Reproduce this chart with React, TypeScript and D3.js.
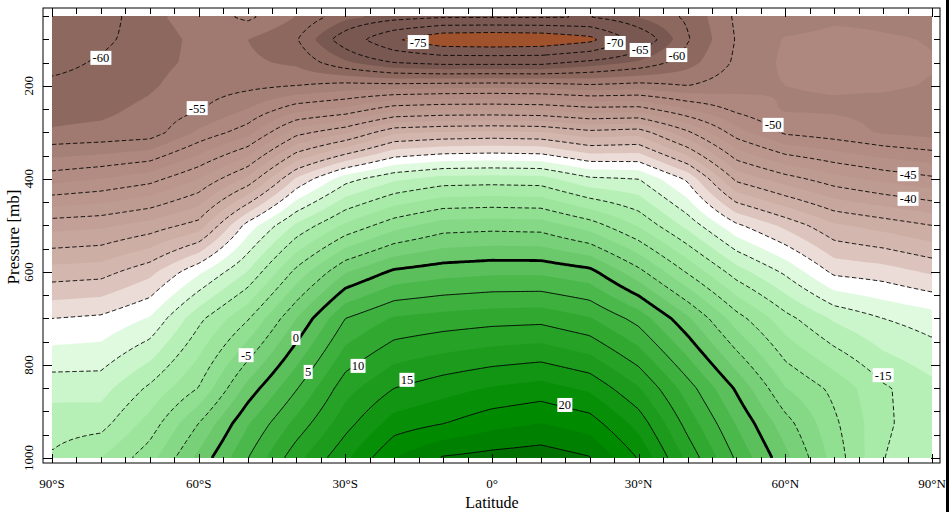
import React, { useMemo } from "react";
import * as d3 from "d3";

// ---------------- data (zonal-mean temperature, °C) ----------------
const latitudes = [-90, -80, -70, -60, -50, -40, -30, -20, -10, 0, 10, 20, 30, 40, 50, 60, 70, 80, 90];
const pressureLevels = [50, 100, 150, 200, 250, 300, 400, 500, 600, 700, 850, 925, 1000];

const t50 = [-62.5, -61.5, -58, -56.5, -54.3, -57.5, -61.5, -63, -64, -64, -64, -64.5, -62, -59.5, -54.5, -54, -53, -53, -53];
const t100 = [-62, -60.7, -58.5, -57, -57.5, -59.8, -67, -74.5, -79, -79.5, -79, -76.5, -68, -60.3, -54.8, -52.3, -51.8, -52.3, -52.6];
const t150 = [-61, -59.6, -58.2, -57, -57, -58, -62, -65, -66, -66, -66, -64, -62, -58.5, -54.5, -52, -51.8, -52, -52.4];
const t200 = [-59.3, -58.8, -57.8, -56.3, -55.7, -55, -54, -54, -53.7, -53.5, -53.7, -54.5, -54, -55, -53.5, -52.5, -52.3, -52.3, -52.6];
const t250 = [-58.2, -58, -57, -55.3, -52.5, -48.5, -47, -43.5, -42.8, -42.7, -43, -44.2, -44, -47.5, -50.7, -52.8, -52.8, -53, -53.2];
const t300 = [-57.3, -57, -56.5, -52, -48.6, -41, -38, -33, -32.3, -32, -32.3, -34.2, -33.5, -39.5, -46.4, -50.5, -51.5, -52.8, -53.5];
const t400 = [-48.5, -47.5, -46, -42.5, -37, -27.1, -21, -18, -16.5, -16.3, -16.5, -19.5, -20, -25.5, -35.7, -38.9, -41.5, -43.2, -44.5];
const t500 = [-38.5, -38, -36.5, -34, -24, -17, -12, -8.5, -6.3, -6, -6.2, -8.7, -12.8, -18.3, -24.5, -28.2, -32.1, -33.5, -35];
const t600 = [-31.4, -31, -28.3, -23, -17.4, -9.2, -2.7, 0.5, 1.5, 2, 2, 0.8, -4.2, -10.3, -16.3, -20.5, -25.6, -26.3, -27.9];
const t700 = [-25, -24.5, -22.3, -15.7, -10.3, -2.5, 5, 7.8, 8.5, 9, 9.2, 7.7, 4, -2, -8.9, -14.1, -17.9, -20, -21.2];
const t850 = [-18.5, -18.5, -14.5, -9.9, -1.6, 4.8, 11.5, 15, 16.5, 17.7, 18.5, 17, 12.7, 6.2, -0.4, -7.4, -10.7, -14.6, -16.8];
const t925 = [-16.1, -16, -11.5, -5, 2.2, 8.3, 14, 18.6, 19.9, 21.6, 22.5, 21.2, 16.5, 9, 2.3, -4, -9.5, -14.4, -17];
const t1000 = [-14.7, -12.5, -8.5, -1.8, 4.9, 11.7, 17, 22.5, 25.3, 26, 26.5, 25.2, 19.8, 11.8, 4.6, -1.7, -8.5, -14.9, -17.5];

const temperatureRows = [t50, t100, t150, t200, t250, t300, t400, t500, t600, t700, t850, t925, t1000];

const contourLevels = [-75, -70, -65, -60, -55, -50, -45, -40, -35, -30, -25, -20, -15, -10, -5, 0, 5, 10, 15, 20, 25];

const fillThresholds = [-75, -62.5, -57.5, -55, -52.5, -50, -47.5, -45, -42.5, -40, -37.5, -35, -32.5, -30, -27.5, -25, -22.5, -20, -17.5, -15, -12.5, -10, -7.5, -5, -2.5, 0, 2.5, 5, 7.5, 10, 12.5, 15, 17.5, 20, 22.5, 25];
const fillColors = [
  "#a0522d", "#785850", "#8c685e", "#a07a70", "#a58076", "#ae887e", "#b28c82", "#b69187", "#ba968c", "#be9b91",
  "#c2a097", "#c7a69d", "#ccaea5", "#d3b7ae", "#dcc4bd", "#ecdcd7", "#ffffff", "#e0fae0", "#cbf6cb", "#b6f0b6",
  "#a8eba8", "#9de59d", "#91df91", "#85d885", "#78d078", "#6bc86b", "#5bc05b", "#4bb84b", "#3db03d", "#31a931",
  "#26a226", "#1c9b1c", "#129512", "#079007", "#008a00", "#008000", "#007000",
];

const latTicks = [-90, -60, -30, 0, 30, 60, 90];
const latTickLabels = ["90°S", "60°S", "30°S", "0°", "30°N", "60°N", "90°N"];
const pressureTicks = [200, 400, 600, 800, 1000];
const pressureTickLabels = ["200", "400", "600", "800", "1000"];

const labelTexts = ["-60", "-55", "-75", "-70", "-65", "-60", "-50", "-45", "-40", "0", "-5", "5", "10", "15", "20", "-15"];
const labelLats = [-80, -60.3, -15.1, 25.2, 30.3, 37.8, 57.5, 85.1, 85.1, -40.1, -50.3, -37.6, -27.4, -17.4, 14.9, 80];
const labelPressures = [140, 248, 106, 108, 123, 134, 284, 390, 443, 742, 779, 815, 802, 832, 886, 822];

// ---------------- layout ----------------
const W = 949;
const H = 512;
const X0 = 52, X1 = 932, Y0 = 16, Y1 = 458;
const FRAME = { l: 43, r: 940, t: 8, b: 463 };
const NX = 352, NY = 176;

function clamp(v: number, a: number, b: number) {
  return Math.max(a, Math.min(b, v));
}

function sampleT(lat: number, p: number) {
  const li = clamp(d3.bisectRight(latitudes, lat) - 1, 0, latitudes.length - 2);
  const fx = clamp((lat - latitudes[li]) / (latitudes[li + 1] - latitudes[li]), 0, 1);
  const pi = clamp(d3.bisectRight(pressureLevels, p) - 1, 0, pressureLevels.length - 2);
  const fy = clamp((p - pressureLevels[pi]) / (pressureLevels[pi + 1] - pressureLevels[pi]), 0, 1);
  const r0 = temperatureRows[pi], r1 = temperatureRows[pi + 1];
  const a = r0[li] * (1 - fx) + r0[li + 1] * fx;
  const b = r1[li] * (1 - fx) + r1[li + 1] * fx;
  return a * (1 - fy) + b * fy;
}

type Pt = [number, number];

function splitRing(ring: Pt[], nx: number, ny: number) {
  const isB = (p: Pt) => p[0] <= 0 || p[0] >= nx || p[1] <= 0 || p[1] >= ny;
  const pts = ring.slice(0, ring.length - 1);
  const n = pts.length;
  const bIdx = pts.findIndex(isB);
  if (bIdx < 0) return [{ pts: ring, closed: true }];
  const ext = (b: Pt, q: Pt): Pt => (b[0] <= 0 || b[0] >= nx ? [b[0], q[1]] : [q[0], b[1]]);
  const out: { pts: Pt[]; closed: boolean }[] = [];
  let cur: Pt[] | null = null;
  for (let k = 1; k <= n; k++) {
    const idx = (bIdx + k) % n;
    const p = pts[idx];
    if (isB(p)) {
      if (cur) {
        cur.push(ext(p, cur[cur.length - 1]));
        if (cur.length >= 2) out.push({ pts: cur, closed: false });
        cur = null;
      }
    } else {
      if (!cur) {
        const prev = pts[(idx - 1 + n) % n];
        cur = [ext(prev, p)];
      }
      cur.push(p);
    }
  }
  return out;
}

export default function App() {
  const xScale = d3.scaleLinear().domain([-90, 90]).range([X0, X1]);
  const yScale = d3.scaleLinear().domain([50, 1000]).range([Y0, Y1]);

  const { fills, lines } = useMemo(() => {
    const cw = (X1 - X0) / NX;
    const ch = (Y1 - Y0) / NY;
    const values: number[] = new Array(NX * NY);
    for (let j = 0; j < NY; j++) {
      const p = yScale.invert(Y0 + (j + 0.5) * ch);
      for (let i = 0; i < NX; i++) {
        const lat = xScale.invert(X0 + (i + 0.5) * cw);
        values[i + j * NX] = sampleT(lat, p);
      }
    }
    const proj = d3.geoTransform({
      point(this: any, x: number, y: number) {
        this.stream.point(X0 + x * cw, Y0 + y * ch);
      },
    });
    const path = d3.geoPath(proj as any);
    const fillContours = d3.contours().size([NX, NY]).thresholds(fillThresholds)(values);
    const fills = fillContours.map((c, k) => ({ d: path(c as any) || "", color: fillColors[k + 1] }));

    const lineContours = d3.contours().size([NX, NY]).thresholds(contourLevels)(values);
    const lineGen = d3.line<Pt>().x((d) => X0 + d[0] * cw).y((d) => Y0 + d[1] * ch);
    const lines: { d: string; value: number }[] = [];
    lineContours.forEach((c) => {
      (c.coordinates as any as Pt[][][]).forEach((poly) => {
        poly.forEach((ring) => {
          splitRing(ring, NX, NY).forEach((seg) => {
            let d = lineGen(seg.pts) || "";
            if (seg.closed) d += "Z";
            lines.push({ d, value: c.value });
          });
        });
      });
    });
    return { fills, lines };
  }, []);

  const minorLat = d3.range(-90, 91, 5);
  const minorP = d3.range(50, 1001, 50);
  const serif = "Liberation Serif, Times New Roman, serif";
  const labelFont = "Liberation Serif, serif";

  return (
    <svg width={W} height={H} viewBox={`0 0 ${W} ${H}`} style={{ position: "absolute", left: 0, top: 0, background: "#fff" }}>
      <rect x={0} y={0} width={W} height={H} fill="#fff" />
      <rect x={X0} y={Y0} width={X1 - X0} height={Y1 - Y0} fill={fillColors[0]} />
      {fills.map((f, i) => (
        <path key={i} d={f.d} fill={f.color} stroke="none" />
      ))}
      {lines.map((l, i) => (
        <path
          key={"l" + i}
          d={l.d}
          fill="none"
          stroke="#000"
          strokeWidth={l.value === 0 ? 2.8 : 0.9}
          strokeDasharray={l.value < 0 ? "4.5,2.5" : undefined}
          strokeLinejoin="round"
        />
      ))}
      {labelTexts.map((t, i) => {
        const w = t.length * 6 + 3;
        return (
          <g key={"lab" + i} transform={`translate(${xScale(labelLats[i])},${yScale(labelPressures[i])})`}>
            <rect x={-w / 2} y={-7} width={w} height={14} fill="#fff" />
            <text textAnchor="middle" dy="0.36em" fontSize={12.5} fontFamily={labelFont} fill="#000">
              {t}
            </text>
          </g>
        );
      })}
      {/* frame */}
      <rect x={FRAME.l} y={FRAME.t} width={FRAME.r - FRAME.l} height={FRAME.b - FRAME.t} fill="none" stroke="#000" strokeWidth={1} />
      {minorLat.map((v) => {
        const x = Math.round(xScale(v)) + 0.5;
        const len = v % 30 === 0 ? 9 : 6;
        return (
          <g key={"xt" + v}>
            <line x1={x} x2={x} y1={FRAME.t} y2={FRAME.t + len} stroke="#000" />
            <line x1={x} x2={x} y1={FRAME.b} y2={FRAME.b - len} stroke="#000" />
          </g>
        );
      })}
      {minorP.map((v) => {
        const y = Math.round(yScale(v)) + 0.5;
        const len = v % 200 === 0 ? 9 : 6;
        return (
          <g key={"yt" + v}>
            <line x1={FRAME.l} x2={FRAME.l + len} y1={y} y2={y} stroke="#000" />
            <line x1={FRAME.r} x2={FRAME.r - len} y1={y} y2={y} stroke="#000" />
          </g>
        );
      })}
      {latTicks.map((v, i) => (
        <text key={"xl" + v} x={xScale(v)} y={488} textAnchor="middle" fontSize={13} fontFamily={serif} fill="#000">
          {latTickLabels[i]}
        </text>
      ))}
      {pressureTicks.map((v, i) => (
        <text
          key={"yl" + v}
          transform={`translate(33,${yScale(v)}) rotate(-90)`}
          textAnchor="middle"
          fontSize={13}
          fontFamily={serif}
          fill="#000"
        >
          {pressureTickLabels[i]}
        </text>
      ))}
      <text x={(X0 + X1) / 2} y={508} textAnchor="middle" fontSize={16} fontFamily={serif} fill="#000">
        Latitude
      </text>
      <text transform={`translate(19,${(Y0 + Y1) / 2}) rotate(-90)`} textAnchor="middle" fontSize={17} fontFamily={serif} fill="#000">
        Pressure [mb]
      </text>
      <rect x={946} y={0} width={3} height={H} fill="#000" />
    </svg>
  );
}
